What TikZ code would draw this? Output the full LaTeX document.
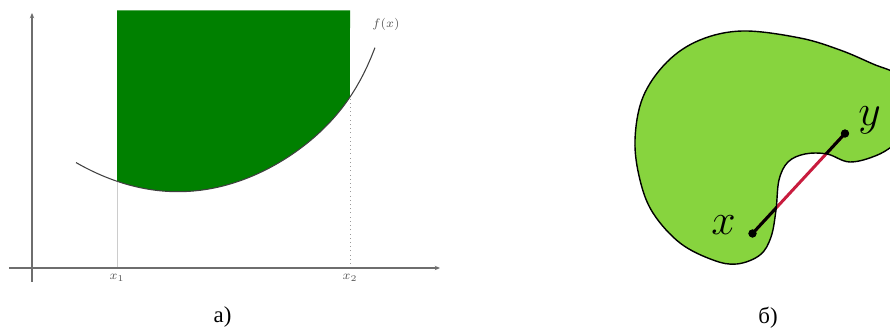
\documentclass[tikz,border=0pt]{standalone}
\usepackage{fontspec}
\usepackage{tikz}
\usetikzlibrary{arrows.meta}
\newfontfamily\capfont{Liberation Serif}
\definecolor{areagreen}{RGB}{0,128,0}
\definecolor{blobgreen}{RGB}{135,212,62}
\definecolor{chordred}{RGB}{200,28,62}
\definecolor{axisgray}{RGB}{110,110,110}
\newcommand{\blobpath}{plot[smooth cycle, tension=0.6] coordinates {
  (14.86,6.00) (16.00,5.86) (16.80,5.62) (17.46,5.34) (17.95,5.12) (18.25,4.65)
  (18.25,4.10) (17.95,3.78) (17.55,3.52) (17.00,3.38) (16.54,3.54) (16.10,3.54)
  (15.76,3.38) (15.58,3.02) (15.52,2.42) (15.42,1.88) (15.20,1.52) (14.74,1.34)
  (14.26,1.42) (13.60,1.76) (13.06,2.36) (12.80,3.02) (12.70,3.82) (12.86,4.68)
  (13.34,5.38) (14.00,5.82)}}

\begin{document}
\begin{tikzpicture}[
  declare function={f(\x)=1.526+0.14*(\x-2.92)^2+1.3e-4*exp(2.2*(\x-2.92));},
  axis/.style={axisgray, line width=0.6pt, -{Stealth[length=3pt, width=2.5pt]}},
  ticklab/.style={text=axisgray!80!black, font=\fontsize{7}{8}\selectfont},
  caption/.style={font=\capfont\fontsize{13}{15}\selectfont},
  dot/.style={circle, fill=black, inner sep=0pt, minimum size=4.6pt},
  ptlab/.style={font=\fontsize{27}{30}\selectfont}]
  \useasboundingbox (0,0) rectangle (17.8,6.62);
  \clip (0,0) rectangle (17.8,6.62);
  \begin{scope}[shift={(0.64,1.26)}]
    \fill[areagreen] (1.7,5.15) -- plot[domain=1.7:6.36, samples=60] (\x,{f(\x)}) -- (6.36,5.15) -- cycle;
    \draw[gray!40, thin] (1.7,0) -- (1.7,{f(1.7)});
    \draw[axisgray!70, dotted, thin] (6.36,0) -- (6.36,{f(6.36)});
    \draw[axis] (-0.46,0) -- (8.16,0);
    \draw[axis] (0,-0.28) -- (0,5.1);
    \draw[black!75, line width=0.6pt] plot[domain=0.88:6.86, samples=80] (\x,{f(\x)});
    \node[ticklab] (fxlab) at (7.08,4.88) {$f(x)$};
    \node[ticklab] (xonelab) at (1.7,-0.2) {$x_1$};
    \node[ticklab] (xtwolab) at (6.36,-0.2) {$x_2$};
  \end{scope}
  \node[caption] (capa) at (4.45,0.27) {а)};
  \fill[blobgreen] \blobpath;
  \node[dot] (ptx) at (15.05,1.95) {};
  \node[dot] (pty) at (16.90,3.95) {};
  \draw[chordred, line width=1.7pt] (ptx.center) -- (pty.center);
  \begin{scope}
    \clip \blobpath;
    \draw[black, line width=1.7pt] (ptx.center) -- (pty.center);
  \end{scope}
  \draw[black, line width=0.8pt] \blobpath;
  \node[dot] at (ptx) {};
  \node[dot] at (pty) {};
  \node[ptlab] (xlab) at (14.47,2.12) {$x$};
  \node[ptlab] (ylab) at (17.39,4.22) {$y$};
  \node[caption] (capb) at (15.36,0.27) {б)};
\end{tikzpicture}
\end{document}
